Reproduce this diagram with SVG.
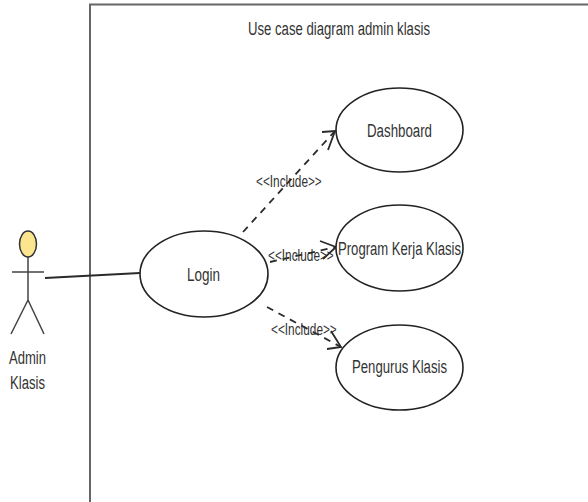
<svg xmlns="http://www.w3.org/2000/svg" width="588" height="502" viewBox="0 0 588 502">
<style>
text{font-family:"Liberation Sans",Arial,sans-serif;font-size:18px;fill:#333;text-anchor:start}
.l{font-size:16px}
.u{fill:#fff;stroke:#222;stroke-width:1.6}
.c{fill:none;stroke:#2a2a2a;stroke-width:1.8}
.d{stroke-dasharray:7 6}
</style>
<rect width="588" height="502" fill="#fff"/>
<g id="frame"><path d="M588 4.500H90V502" fill="none" stroke="#666" stroke-width="2"/>
<text x="248" y="35" textLength="182" lengthAdjust="spacingAndGlyphs">Use case diagram admin klasis</text></g>
<g id="connectors">
<path class="c" d="M45 278L140 273"/>
<path class="c d" d="M243 232L335 131"/><path class="c" d="M322 132L335 131L328 150"/>
<path class="c d" d="M270 262L336 247"/><path class="c" d="M320 241L336 247L323 259"/>
<path class="c d" d="M267 307L341 347"/><path class="c" d="M331 331L341 347L327 349"/>
</g>
<g id="actor-admin-klasis">
<ellipse cx="28" cy="244" rx="8.500" ry="13" fill="#fbe58f" stroke="#333" stroke-width="1.500"/>
<path d="M28 257V300M12 272H44M28 300L11 334M28 300L44 334" fill="none" stroke="#444" stroke-width="1.500"/>
<text x="9" y="364" textLength="37" lengthAdjust="spacingAndGlyphs">Admin</text>
<text x="10" y="389" textLength="35" lengthAdjust="spacingAndGlyphs">Klasis</text>
</g>
<g id="login"><ellipse class="u" cx="204" cy="274" rx="64" ry="43"/>
<text x="187" y="281" textLength="33" lengthAdjust="spacingAndGlyphs">Login</text></g>
<g id="dashboard"><ellipse class="u" cx="399.500" cy="130" rx="63.500" ry="42"/>
<text x="367" y="137" textLength="65" lengthAdjust="spacingAndGlyphs">Dashboard</text></g>
<g id="program-kerja-klasis"><ellipse class="u" cx="399.500" cy="248" rx="63.500" ry="43"/>
<text x="338" y="255" textLength="123" lengthAdjust="spacingAndGlyphs">Program Kerja Klasis</text></g>
<g id="pengurus-klasis"><ellipse class="u" cx="399.500" cy="367.500" rx="63.500" ry="42.500"/>
<text x="352" y="373" textLength="95" lengthAdjust="spacingAndGlyphs">Pengurus Klasis</text></g>
<g id="connector-labels">
<text class="l" transform="translate(256 187) scale(.74 1)">&lt;&lt;Include&gt;&gt;</text>
<text class="l" transform="translate(268 261) scale(.74 1)">&lt;&lt;Include&gt;&gt;</text>
<text class="l" transform="translate(271 335) scale(.74 1)">&lt;&lt;Include&gt;&gt;</text>
</g>
</svg>
